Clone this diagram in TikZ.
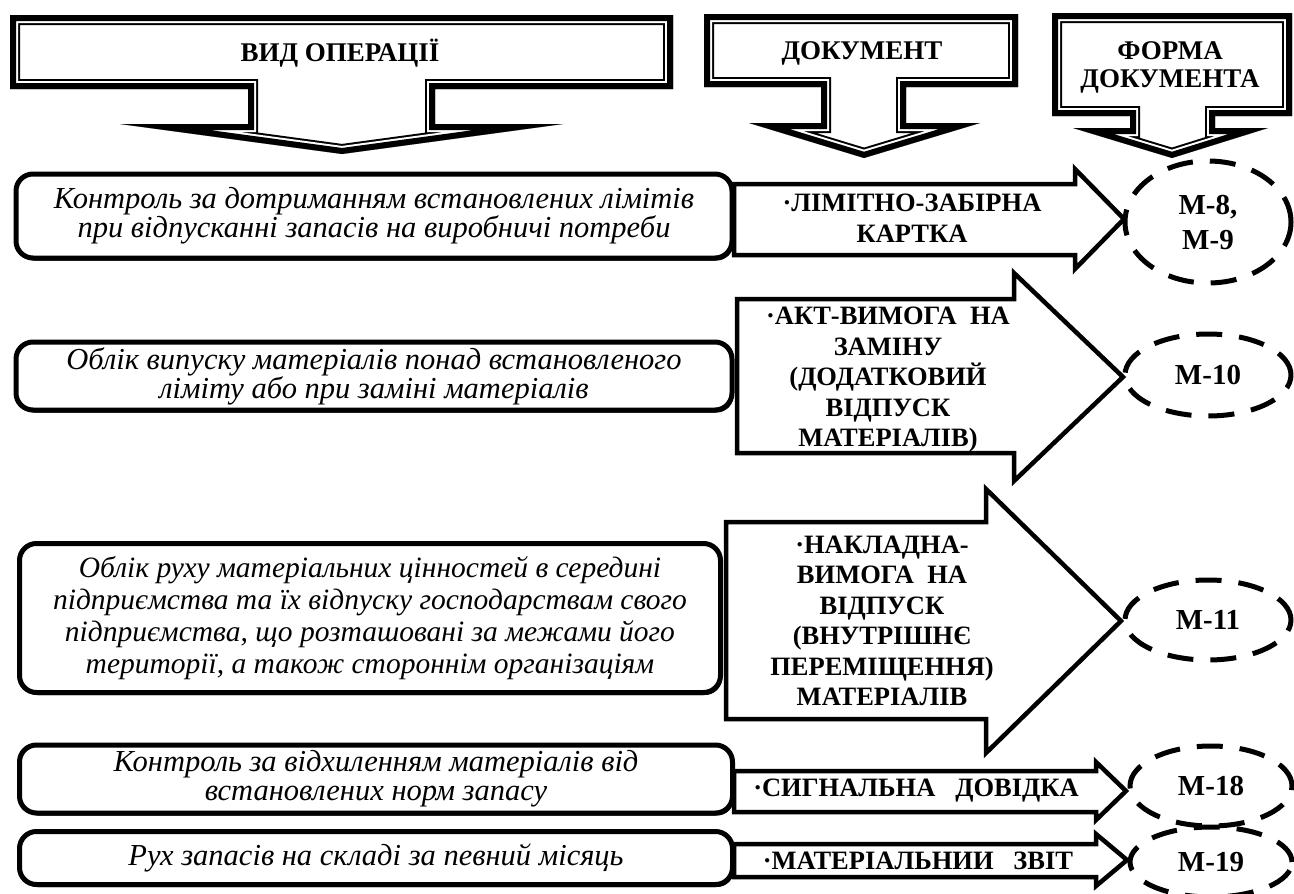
\documentclass[tikz,border=0pt]{standalone}
\usepackage{fontspec}
\setmainfont{Liberation Serif}
\usetikzlibrary{shapes.geometric,shadows}
\tikzset{
  hdrtext/.style={font=\fontsize{27}{28}\selectfont\bfseries, align=center, inner sep=0pt},
  optext/.style={font=\fontsize{30.5}{29}\selectfont\itshape, align=center},
  opbox/.style={draw, line width=5pt, rounded corners=17pt, fill=white,
    drop shadow={shadow xshift=1.5pt, shadow yshift=-2.5pt, fill=black, opacity=1}},
  docarrow/.style={draw, line width=4.5pt, fill=white, line join=miter, miter limit=20},
  doctext/.style={font=\fontsize{26.5}{30.5}\selectfont\bfseries, align=center, inner sep=0pt},
  formell/.style={ellipse, draw, line width=5pt, dash pattern=on 26pt off 17pt,
    inner sep=0pt, font=\fontsize{29}{35}\selectfont\bfseries, align=center}
}
\newcommand\hdrarrow[1]{%
  \begin{scope}
    \clip #1;
    \fill[white] #1;
    \draw[line width=20pt, line join=miter] #1;
    \draw[white, line width=16pt, line join=miter] #1;
    \draw[line width=12pt, line join=miter] #1;
  \end{scope}}
\begin{document}
\begin{tikzpicture}[x=1pt,y=-1pt]
\useasboundingbox (0,0) rectangle (1294,894);
\clip (0,0) rectangle (1294,894);
\fill[white] (0,0) rectangle (1294,894);

% header arrows
\hdrarrow{(10,15) -- (673,15) -- (673,89) -- (435,89) -- (435,124) -- (563,124) -- (342,154) -- (120,124) -- (248,124) -- (248,89) -- (10,89) -- cycle}
\hdrarrow{(704,14) -- (1018,14) -- (1018,87) -- (906,87) -- (906,123) -- (980,123) -- (864,158) -- (749,123) -- (821,123) -- (821,87) -- (704,87) -- cycle}
\hdrarrow{(1052,13) -- (1292,13) -- (1292,116) -- (1215,116) -- (1215,128) -- (1268,128) -- (1172,158) -- (1073,128) -- (1130,128) -- (1130,116) -- (1052,116) -- cycle}
\node[hdrtext] (h1) at (340,53) {ВИД ОПЕРАЦІЇ};
\node[hdrtext] (h2) at (862,53) {ДОКУМЕНТ};
\node[hdrtext] (h3) at (1170,67) {ФОРМА\\ДОКУМЕНТА};

% document arrows
\draw[docarrow] (734,184) -- (1075,184) -- (1075,169) -- (1124,219) -- (1075,269) -- (1075,255) -- (734,255) -- cycle;
\draw[docarrow] (737,299) -- (1014,299) -- (1014,273) -- (1123,377) -- (1014,481) -- (1014,453) -- (737,453) -- cycle;
\draw[docarrow] (726,522) -- (986,522) -- (986,489) -- (1121,621) -- (986,753) -- (986,719) -- (726,719) -- cycle;
\draw[docarrow] (734,771) -- (1096,771) -- (1096,762) -- (1126,791) -- (1096,820) -- (1096,812) -- (734,812) -- cycle;
\draw[docarrow] (734,844) -- (1096,844) -- (1096,834) -- (1127,860) -- (1096,886) -- (1096,877) -- (734,877) -- cycle;

\node[doctext] (d1) at (912,218) {·ЛІМІТНО-ЗАБІРНА\\КАРТКА};
\node[doctext] (d2) at (888,380) {·АКТ-ВИМОГА\ \ НА\\ЗАМІНУ\\(ДОДАТКОВИЙ\\ВІДПУСК\\МАТЕРІАЛІВ)};
\node[doctext] (d3) at (882,621) {·НАКЛАДНА-\\ВИМОГА\ \ НА\\ВІДПУСК\\(ВНУТРІШНЄ\\ПЕРЕМІЩЕННЯ)\\МАТЕРІАЛІВ};
\node[doctext] (d4) at (916,791) {·СИГНАЛЬНА\ \ \ ДОВІДКА};
\node[doctext] (d5) at (918,861) {·МАТЕРІАЛЬНИИ\ \ \ ЗВІТ};

% operation boxes
\node[opbox, minimum width=716pt, minimum height=84pt, optext] (r1) at (374,216)
  {Контроль за дотриманням встановлених лімітів\\при відпусканні запасів на виробничі потреби};
\node[opbox, minimum width=716pt, minimum height=68pt, optext] (r2) at (374,376)
  {Облік випуску матеріалів понад встановленого\\ліміту або при заміні матеріалів};
\node[opbox, minimum width=701pt, minimum height=149pt, optext, font=\fontsize{29.5}{32}\selectfont\itshape] (r3) at (370,618)
  {Облік руху матеріальних цінностей в середині\\підприємства та їх відпуску господарствам свого\\підприємства, що розташовані за межами його\\території, а також стороннім організаціям};
\node[opbox, minimum width=713pt, minimum height=68pt, optext] (r4) at (376,779)
  {Контроль за відхиленням матеріалів від\\встановлених норм запасу};
\node[opbox, minimum width=713pt, minimum height=53pt, optext] (r5) at (376,858)
  {Рух запасів на складі за певний місяць};

% form ellipses
\node[formell, minimum width=166pt, minimum height=122pt] (f1) at (1208,222) {М-8,\\М-9};
\node[formell, minimum width=166pt, minimum height=82pt] (f2) at (1208,375) {М-10};
\node[formell, minimum width=166pt, minimum height=80pt] (f3) at (1208,620) {М-11};
\node[formell, minimum width=162pt, minimum height=80pt] (f4) at (1211,786) {М-18};
\node[formell, minimum width=162pt, minimum height=70pt] (f5) at (1211,862) {М-19};
\end{tikzpicture}
\end{document}
